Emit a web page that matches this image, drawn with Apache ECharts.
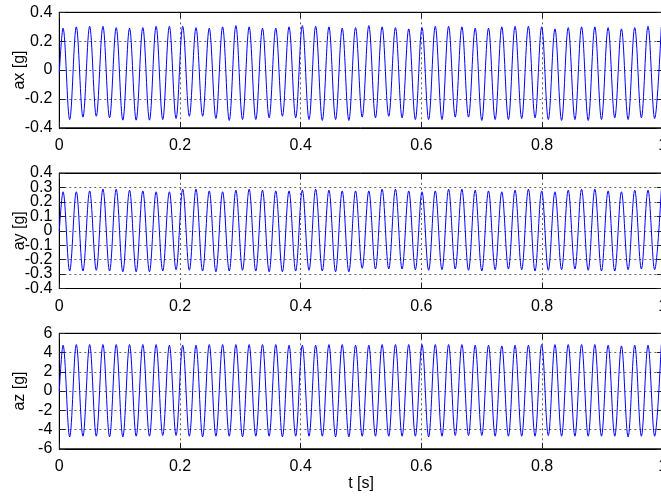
<!DOCTYPE html>
<html>
<head>
<meta charset="utf-8">
<script src="https://cdn.jsdelivr.net/npm/echarts@6/dist/echarts.min.js"></script>
<style>
html,body{margin:0;padding:0;background:#fff;}
#chart{width:661px;height:501px;}
</style>
</head>
<body>
<div id="chart"></div>
<script>
// Times (s) of the signal peaks and troughs
const peakTimes = [0.0062,0.0282,0.0503,0.0723,0.0943,0.1164,0.1384,0.1604,0.1824,0.2045,0.2265,0.2485,0.2706,0.2926,0.3146,0.3367,0.3587,0.3807,0.4027,0.4248,0.4468,0.4688,0.4909,0.5129,0.5349,0.5570,0.5790,0.6010,0.6230,0.6451,0.6671,0.6891,0.7112,0.7332,0.7552,0.7773,0.7993,0.8213,0.8433,0.8654,0.8874,0.9094,0.9315,0.9535,0.9755,0.9975];
const troughTimes = [0.0172,0.0392,0.0613,0.0833,0.1053,0.1274,0.1494,0.1714,0.1935,0.2155,0.2375,0.2595,0.2816,0.3036,0.3256,0.3477,0.3697,0.3917,0.4138,0.4358,0.4578,0.4798,0.5019,0.5239,0.5459,0.5680,0.5900,0.6120,0.6341,0.6561,0.6781,0.7001,0.7222,0.7442,0.7662,0.7883,0.8103,0.8323,0.8544,0.8764,0.8984,0.9204,0.9425,0.9645,0.9865];

// ax [g]
const axStart = -0.02;
const axPeaks = [0.290,0.299,0.303,0.303,0.294,0.290,0.294,0.303,0.303,0.303,0.294,0.290,0.299,0.308,0.299,0.290,0.290,0.299,0.308,0.303,0.299,0.290,0.294,0.308,0.299,0.294,0.285,0.294,0.303,0.303,0.299,0.290,0.290,0.299,0.303,0.303,0.299,0.285,0.294,0.299,0.299,0.294,0.285,0.294,0.303,0.298];
const axTroughs = [-0.343,-0.326,-0.320,-0.331,-0.347,-0.347,-0.347,-0.343,-0.336,-0.320,-0.320,-0.336,-0.349,-0.343,-0.343,-0.331,-0.320,-0.331,-0.343,-0.349,-0.343,-0.349,-0.326,-0.331,-0.320,-0.331,-0.343,-0.343,-0.343,-0.326,-0.326,-0.349,-0.343,-0.343,-0.336,-0.331,-0.343,-0.349,-0.343,-0.349,-0.343,-0.331,-0.343,-0.331,-0.336];

// ay [g]
const ayStart = 0.0;
const ayPeaks = [0.270,0.270,0.276,0.288,0.288,0.281,0.276,0.270,0.270,0.288,0.288,0.276,0.270,0.281,0.288,0.281,0.276,0.276,0.281,0.288,0.281,0.276,0.276,0.276,0.288,0.288,0.276,0.270,0.276,0.288,0.288,0.281,0.276,0.270,0.281,0.288,0.276,0.270,0.281,0.288,0.288,0.276,0.270,0.281,0.281,0.280];
const ayTroughs = [-0.279,-0.279,-0.274,-0.279,-0.284,-0.284,-0.284,-0.279,-0.270,-0.274,-0.279,-0.284,-0.279,-0.274,-0.279,-0.284,-0.284,-0.279,-0.274,-0.279,-0.284,-0.284,-0.260,-0.265,-0.265,-0.265,-0.270,-0.274,-0.270,-0.265,-0.274,-0.279,-0.270,-0.265,-0.270,-0.279,-0.274,-0.270,-0.265,-0.274,-0.279,-0.279,-0.270,-0.265,-0.270];

// az [g]
const azStart = 0.0;
const azPeaks = [4.76,4.83,4.83,4.83,4.83,4.83,4.83,4.83,4.76,4.76,4.76,4.83,4.83,4.83,4.83,4.83,4.83,4.76,4.76,4.76,4.83,4.83,4.76,4.76,4.83,4.83,4.83,4.83,4.83,4.83,4.83,4.76,4.76,4.69,4.76,4.76,4.83,4.83,4.83,4.83,4.83,4.76,4.69,4.76,4.76,4.80];
const azTroughs = [-4.76,-4.69,-4.69,-4.76,-4.76,-4.69,-4.69,-4.62,-4.62,-4.69,-4.76,-4.69,-4.69,-4.76,-4.69,-4.69,-4.76,-4.69,-4.69,-4.69,-4.76,-4.76,-4.69,-4.69,-4.69,-4.69,-4.69,-4.76,-4.69,-4.62,-4.62,-4.62,-4.69,-4.69,-4.69,-4.69,-4.62,-4.69,-4.69,-4.69,-4.69,-4.69,-4.76,-4.69,-4.69];

// axis settings
const xTicks = {min: 0, max: 1, interval: 0.2};
const yNames = ['ax [g]', 'ay [g]', 'az [g]'];
const yRanges = [{min: -0.4, max: 0.4, interval: 0.2}, {min: -0.4, max: 0.4, interval: 0.1}, {min: -6, max: 6, interval: 2}];
// tick labels of the middle panel, split over two label layers
const ayLabelsEven = [-0.4, -0.2, 0, 0.2, 0.4];
const ayLabelsOdd = [-0.3, -0.1, 0.1, 0.3];
const xName = 't [s]';

function buildSeries(start, peaks, troughs) {
  const out = [[0, start]];
  for (let k = 0; k < peaks.length; k++) {
    out.push([peakTimes[k], peaks[k]]);
    if (k < troughs.length) out.push([troughTimes[k], troughs[k]]);
  }
  return out;
}
const seriesData = [
  buildSeries(axStart, axPeaks, axTroughs),
  buildSeries(ayStart, ayPeaks, ayTroughs),
  buildSeries(azStart, azPeaks, azTroughs)
];

const FONT = 'Liberation Sans, Arial, Helvetica, sans-serif';
const tops = [12.3, 173, 333.3];
const H = 115.5;
const L = 59.3, W = 603.5;
const gridLine = {show: true, lineStyle: {color: '#666', width: 1, type: [2, 3]}};
const tickStyle = {show: true, inside: true, length: 6, lineStyle: {color: '#222', width: 1}};
const axisLineStyle = {show: true, onZero: false, lineStyle: {color: '#000', width: 1}};
const labelBase = {show: true, color: '#000', fontSize: 16, fontFamily: FONT, showMinLabel: true, showMaxLabel: true, hideOverlap: false};

const grids = [], xAxes = [], yAxes = [], series = [];
for (let i = 0; i < 3; i++) {
  grids.push({left: L, width: W, top: tops[i], height: H, show: true, borderColor: '#000', borderWidth: 1,
    backgroundColor: '#fff', containLabel: false, outerBoundsMode: 'none'});
  const xb = {
    gridIndex: i, type: 'value', position: 'bottom', min: xTicks.min, max: xTicks.max, interval: xTicks.interval,
    axisLine: axisLineStyle, axisTick: tickStyle, splitLine: gridLine,
    axisLabel: Object.assign({}, labelBase, {margin: 10})
  };
  if (i === 2) {
    xb.name = xName; xb.nameLocation = 'middle'; xb.nameGap = 27; xb.nameMoveOverlap = false;
    xb.nameTextStyle = {color: '#000', fontSize: 16, fontFamily: FONT};
  }
  xAxes.push(xb);
  xAxes.push({
    gridIndex: i, type: 'value', position: 'top', min: xTicks.min, max: xTicks.max, interval: xTicks.interval,
    axisLine: axisLineStyle, axisTick: tickStyle, splitLine: {show: false}, axisLabel: {show: false}
  });
  const yl = Object.assign({}, labelBase, {margin: 7});
  if (i === 1) yl.customValues = ayLabelsEven;
  yAxes.push({
    gridIndex: i, type: 'value', position: 'left', min: yRanges[i].min, max: yRanges[i].max, interval: yRanges[i].interval,
    axisLine: axisLineStyle, axisTick: tickStyle, splitLine: gridLine,
    axisLabel: yl,
    name: yNames[i], nameLocation: 'middle', nameGap: 32, nameMoveOverlap: false,
    nameTextStyle: {color: '#000', fontSize: 16, fontFamily: FONT}
  });
  yAxes.push({
    gridIndex: i, type: 'value', position: 'right', min: yRanges[i].min, max: yRanges[i].max, interval: yRanges[i].interval,
    axisLine: axisLineStyle, axisTick: tickStyle, splitLine: {show: false}, axisLabel: {show: false}
  });
  series.push({
    type: 'line', xAxisIndex: 2 * i, yAxisIndex: 2 * i, data: seriesData[i],
    showSymbol: false, symbol: 'none', smooth: 0.36,
    lineStyle: {color: '#0000ff', width: 1}, animation: false, clip: true
  });
}
// overlay layer (same place as the middle panel) carrying its odd tick labels
grids.push({left: L, width: W, top: tops[1], height: H, show: false, containLabel: false, outerBoundsMode: 'none'});
xAxes.push({gridIndex: 3, type: 'value', min: xTicks.min, max: xTicks.max, show: false});
yAxes.push({
  gridIndex: 3, type: 'value', position: 'left', min: yRanges[1].min, max: yRanges[1].max, interval: yRanges[1].interval,
  axisLine: {show: false}, axisTick: {show: false}, splitLine: {show: false},
  axisLabel: Object.assign({}, labelBase, {margin: 7, customValues: ayLabelsOdd})
});

const chart = echarts.init(document.getElementById('chart'), null, {renderer: 'canvas'});
chart.setOption({
  backgroundColor: '#fff',
  animation: false,
  grid: grids, xAxis: xAxes, yAxis: yAxes, series: series
});
</script>
</body>
</html>
